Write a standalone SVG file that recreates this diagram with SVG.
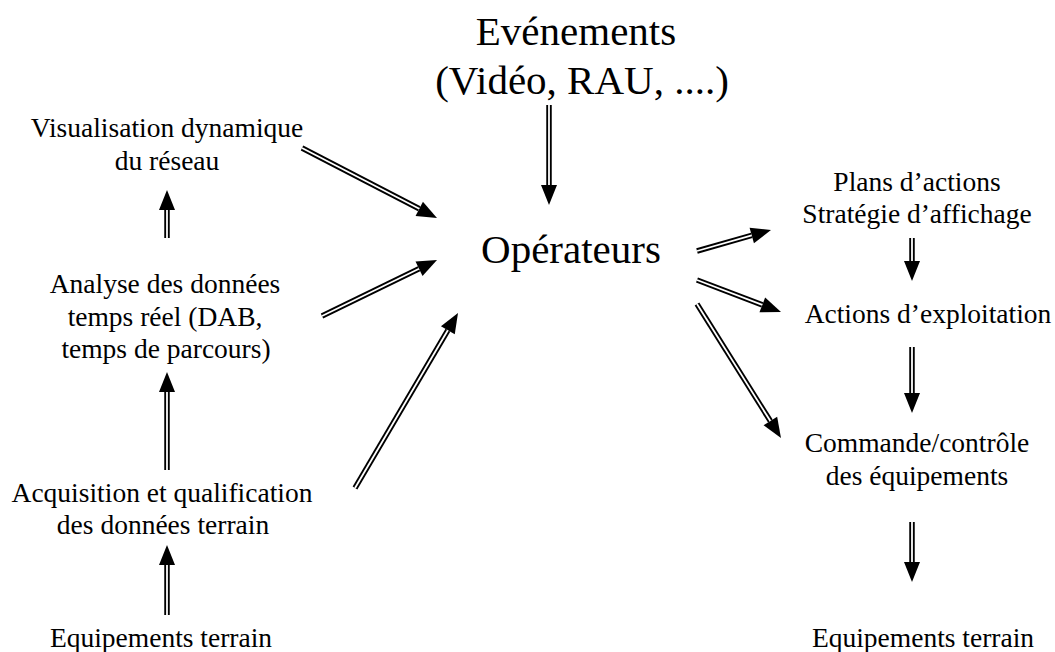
<svg xmlns="http://www.w3.org/2000/svg" width="1055" height="652" viewBox="0 0 1055 652">
<style>
text{font-family:"Liberation Serif","Times New Roman",serif;fill:#000;text-anchor:middle}
.big{font-size:41px}
.sm{font-size:27.5px}
.o{stroke:#000;stroke-width:5.5;fill:none;marker-end:url(#ah)}
.i{stroke:#fff;stroke-width:1.8;fill:none}
</style>
<defs>
<marker id="ah" markerUnits="userSpaceOnUse" markerWidth="20" markerHeight="16" viewBox="0 0 20 16" refX="0" refY="8" orient="auto" overflow="visible">
<path d="M0,0 L20,8 L0,16 z" fill="#000"/>
</marker>
</defs>
<rect width="1055" height="652" fill="#fff"/>
<g id="evenements"><text class="big" x="576" y="45">Evénements</text><text class="big" x="582" y="94">(Vidéo, RAU, ....)</text></g>
<g id="operateurs"><text class="big" x="571" y="263">Opérateurs</text></g>
<g id="visualisation"><text class="sm" x="167" y="137">Visualisation dynamique</text><text class="sm" x="167" y="170">du réseau</text></g>
<g id="analyse"><text class="sm" x="165" y="293">Analyse des données</text><text class="sm" x="165" y="326">temps réel (DAB,</text><text class="sm" x="166" y="358">temps de parcours)</text></g>
<g id="acquisition"><text class="sm" x="162" y="502">Acquisition et qualification</text><text class="sm" x="163" y="534">des données terrain</text></g>
<g id="equip-left"><text class="sm" x="161" y="647">Equipements terrain</text></g>
<g id="plans"><text class="sm" x="917" y="191">Plans d’actions</text><text class="sm" x="917" y="223">Stratégie d’affichage</text></g>
<g id="actions"><text class="sm" x="928" y="323">Actions d’exploitation</text></g>
<g id="commande"><text class="sm" x="917" y="452">Commande/contrôle</text><text class="sm" x="917" y="485">des équipements</text></g>
<g id="equip-right"><text class="sm" x="923" y="647">Equipements terrain</text></g>
<g id="connectors">
<line class="o" x1="302" y1="148" x2="419.25" y2="208.8"/><line class="i" x1="302" y1="148" x2="419.25" y2="208.8"/>
<line class="o" x1="322" y1="316" x2="419.02" y2="268.76"/><line class="i" x1="322" y1="316" x2="419.02" y2="268.76"/>
<line class="o" x1="355" y1="488" x2="447.86" y2="330.24"/><line class="i" x1="355" y1="488" x2="447.86" y2="330.24"/>
<line class="o" x1="549" y1="105" x2="549" y2="185"/><line class="i" x1="549" y1="105" x2="549" y2="185"/>
<line class="o" x1="697" y1="251" x2="751.76" y2="235.46"/><line class="i" x1="697" y1="251" x2="751.76" y2="235.46"/>
<line class="o" x1="697" y1="280" x2="762.31" y2="304.88"/><line class="i" x1="697" y1="280" x2="762.31" y2="304.88"/>
<line class="o" x1="697" y1="304" x2="770.37" y2="421.06"/><line class="i" x1="697" y1="304" x2="770.37" y2="421.06"/>
<line class="o" x1="167" y1="238" x2="167" y2="210"/><line class="i" x1="167" y1="238" x2="167" y2="210"/>
<line class="o" x1="167" y1="470" x2="167" y2="392"/><line class="i" x1="167" y1="470" x2="167" y2="392"/>
<line class="o" x1="167" y1="615" x2="167" y2="565"/><line class="i" x1="167" y1="615" x2="167" y2="565"/>
<line class="o" x1="912" y1="238" x2="912" y2="261"/><line class="i" x1="912" y1="238" x2="912" y2="261"/>
<line class="o" x1="912" y1="347" x2="912" y2="393"/><line class="i" x1="912" y1="347" x2="912" y2="393"/>
<line class="o" x1="912" y1="522" x2="912" y2="562"/><line class="i" x1="912" y1="522" x2="912" y2="562"/>
</g>
</svg>
